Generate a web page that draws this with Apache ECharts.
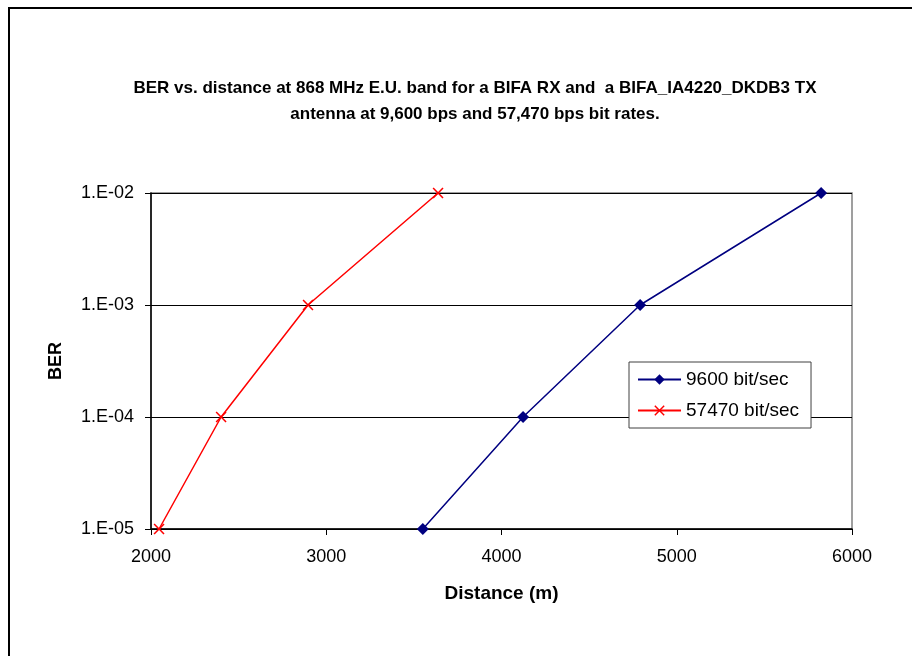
<!DOCTYPE html>
<html>
<head>
<meta charset="utf-8">
<script src="https://cdn.jsdelivr.net/npm/echarts@6/dist/echarts.min.js"></script>
<style>
  html, body { margin: 0; padding: 0; background: #fff; }
  #chart { width: 912px; height: 656px; }
</style>
</head>
<body>
<div id="chart"></div>
<script>
// data
const dist9600 = [3551, 4123, 4791, 5824];
const ber9600 = [1e-5, 1e-4, 1e-3, 1e-2];
const dist57470 = [2046, 2400, 2896, 3638];
const ber57470 = [1e-5, 1e-4, 1e-3, 1e-2];
const seriesNames = ["9600 bit/sec", "57470 bit/sec"];
const xTicks = [2000, 3000, 4000, 5000, 6000];

const crossPath = "path://M0,1L1,0L5,4L9,0L10,1L6,5L10,9L9,10L5,6L1,10L0,9L4,5Z";
const font = "'Liberation Sans', Arial, sans-serif";

const myChart = echarts.init(document.getElementById("chart"));

const option = {
  animation: false,
  backgroundColor: "#fff",
  textStyle: { fontFamily: font },
  title: {
    text: "BER vs. distance at 868 MHz E.U. band for a BIFA RX and  a BIFA_IA4220_DKDB3 TX\nantenna at 9,600 bps and 57,470 bps bit rates.",
    left: 470,
    top: 70,
    textAlign: "center",
    textStyle: {
      fontFamily: font,
      fontSize: 17,
      fontWeight: "bold",
      color: "#000",
      lineHeight: 26,
    },
  },
  graphic: [
    {
      type: "rect",
      shape: { x: 9, y: 8, width: 1000, height: 1000 },
      style: { fill: "none", stroke: "#000", lineWidth: 2 },
      silent: true,
    },
  ],
  grid: {
    left: 151,
    top: 193,
    right: 60,
    bottom: 127,
    show: true,
    borderColor: "#808080",
    borderWidth: 1.5,
  },
  legend: {
    left: 629,
    top: 362,
    orient: "vertical",
    data: seriesNames,
    backgroundColor: "#fff",
    borderColor: "#404040",
    borderWidth: 1,
    padding: [8, 12, 8, 8],
    itemGap: 12,
    itemWidth: 43,
    itemHeight: 13,
    textStyle: { fontFamily: font, fontSize: 19, color: "#000" },
  },
  xAxis: {
    type: "value",
    min: xTicks[0],
    max: xTicks[xTicks.length - 1],
    interval: 1000,
    name: "Distance (m)",
    nameLocation: "middle",
    nameGap: 55,
    nameTextStyle: { fontFamily: font, fontSize: 19, fontWeight: "bold", color: "#000" },
    axisLine: { show: true, onZero: false, lineStyle: { color: "#000", width: 1.5 } },
    axisTick: { show: true, inside: false, length: 6, lineStyle: { color: "#000" } },
    axisLabel: {
      fontFamily: font,
      fontSize: 18,
      color: "#000",
      margin: 19,
      formatter: (v) => String(v),
    },
    splitLine: { show: false },
  },
  yAxis: {
    type: "log",
    logBase: 10,
    min: 1e-5,
    max: 1e-2,
    name: "BER",
    nameLocation: "middle",
    nameGap: 86,
    nameTextStyle: { fontFamily: font, fontSize: 18, fontWeight: "bold", color: "#000" },
    axisLine: { show: true, onZero: false, lineStyle: { color: "#000", width: 1.5 } },
    axisTick: { show: true, inside: false, length: 6, lineStyle: { color: "#000" } },
    axisLabel: {
      fontFamily: font,
      fontSize: 18,
      color: "#000",
      margin: 17,
      formatter: (v) => {
        const e = Math.round(Math.log10(v));
        return "1.E" + (e < 0 ? "-" : "+") + String(Math.abs(e)).padStart(2, "0");
      },
    },
    splitLine: {
      show: true,
      lineStyle: { color: ["#000", "#000", "#000", "#808080"], width: 1.2 },
    },
    minorTick: { show: false },
  },
  series: [
    {
      name: seriesNames[0],
      type: "line",
      data: dist9600.map((d, i) => [d, ber9600[i]]),
      symbol: "diamond",
      symbolSize: 12,
      showAllSymbol: true,
      lineStyle: { color: "#000080", width: 1.5 },
      itemStyle: { color: "#000080" },
      z: 3,
    },
    {
      name: seriesNames[1],
      type: "line",
      data: dist57470.map((d, i) => [d, ber57470[i]]),
      symbol: crossPath,
      symbolSize: 11,
      showAllSymbol: true,
      lineStyle: { color: "#ff0000", width: 1.5 },
      itemStyle: { color: "#ff0000" },
      z: 3,
    },
  ],
};

myChart.setOption(option);
</script>
</body>
</html>
